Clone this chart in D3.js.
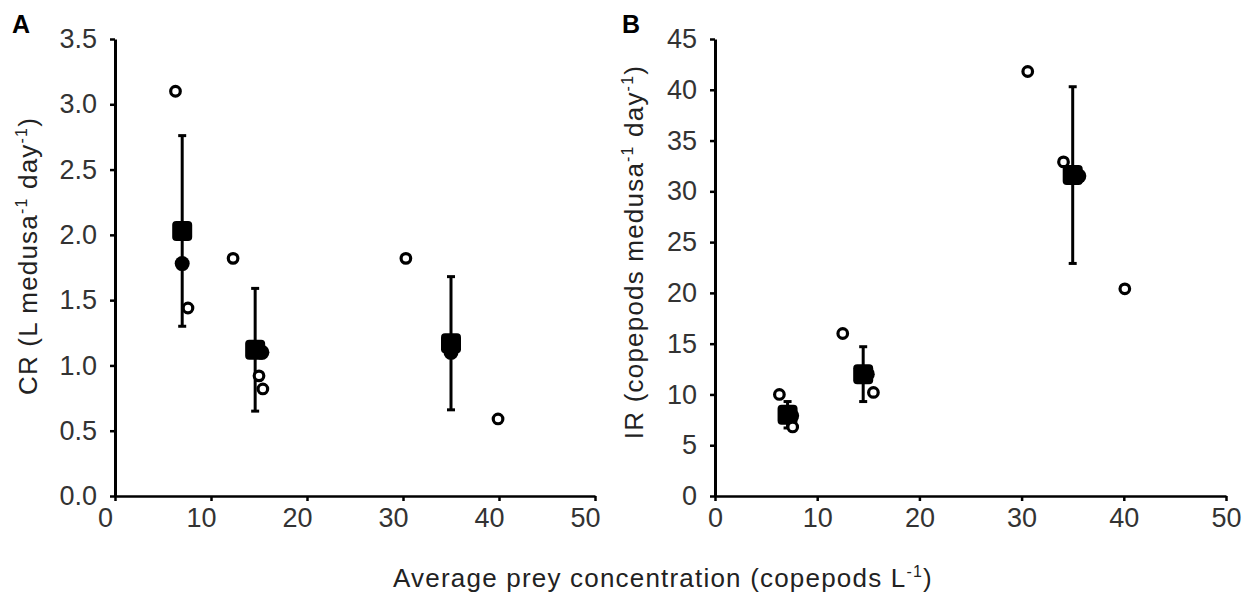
<!DOCTYPE html>
<html>
<head>
<meta charset="utf-8">
<script src="https://cdn.jsdelivr.net/npm/d3@7"></script>
<style>
  body { margin: 0; background: #fff; }
  text { font-family: "Liberation Sans", Arial, sans-serif; }
</style>
</head>
<body>
<script>
// panel A - clearance rate, individual runs (open circles)
let openAx = [6.3, 7.6, 12.3, 15.0, 15.4, 30.3, 39.9];
let openAy = [3.10, 1.44, 1.82, 0.92, 0.82, 1.82, 0.59];
// filled circles
let fillAx = [7.0, 15.3, 35.0];
let fillAy = [1.78, 1.10, 1.10];
// means +- sd
let meanAx = [7.0, 14.6, 35.0];
let meanAy = [2.03, 1.12, 1.17];
let sdA = [0.73, 0.47, 0.51];

// panel B - ingestion rate
let openBx = [6.3, 7.6, 12.5, 15.5, 30.6, 34.1, 40.1];
let openBy = [10.0, 6.8, 16.0, 10.2, 41.8, 32.9, 20.4];
let fillBx = [7.5, 14.9, 35.6];
let fillBy = [7.9, 12.0, 31.5];
let meanBx = [7.1, 14.5, 35.0];
let meanBy = [8.0, 12.0, 31.6];
let sdB = [1.3, 2.7, 8.7];

let xTicks = [0, 10, 20, 30, 40, 50];
let yTicksA = [0, 0.5, 1.0, 1.5, 2.0, 2.5, 3.0, 3.5];
let yTicksB = [0, 5, 10, 15, 20, 25, 30, 35, 40, 45];

let canvasW = 1254;
let canvasH = 598;

let svg = d3.select("body")
  .append("svg")
    .attr("width", canvasW)
    .attr("height", canvasH)
    .style("background-color", "#fff");

function zip(xs, ys) { return xs.map((x, i) => [x, ys[i]]); }

function panel(cfg) {
  let x = d3.scaleLinear().domain([0, 50]).range(cfg.xr);
  let y = d3.scaleLinear().domain(cfg.ydom).range([496, 39]);

  // axes
  let xAxis = svg.append("g")
    .attr("transform", "translate(0,496)")
    .call(d3.axisBottom(x).tickValues(xTicks).tickSize(5).tickSizeOuter(0).tickPadding(7));
  xAxis.select(".domain").attr("stroke-width", 2.5);
  xAxis.selectAll(".tick line").attr("stroke-width", 2.5);
  xAxis.selectAll(".tick text")
    .attr("dx", cfg.xdx)
    .attr("font-size", "27px")
    .attr("fill", "#333");

  let yAxis = svg.append("g")
    .attr("transform", "translate(" + cfg.xr[0] + ",0)")
    .call(d3.axisLeft(y).tickValues(cfg.yticks).tickFormat(d3.format(cfg.yfmt)).tickSize(5).tickSizeOuter(0).tickPadding(13));
  yAxis.select(".domain").attr("stroke-width", 3);
  yAxis.selectAll(".tick line").attr("stroke-width", 2.5);
  yAxis.selectAll(".tick text")
    .attr("font-size", "27px")
    .attr("fill", "#333");
  svg.selectAll(".domain").attr("stroke", "#000");

  // error bars
  let eb = svg.append("g");
  cfg.mx.forEach((mx, i) => {
    let cx = x(mx);
    let top = y(cfg.my[i] + cfg.sd[i]);
    let bot = y(cfg.my[i] - cfg.sd[i]);
    eb.append("line").attr("x1", cx).attr("x2", cx).attr("y1", top).attr("y2", bot)
      .attr("stroke", "#000").attr("stroke-width", 3);
    [top, bot].forEach(v => {
      eb.append("line").attr("x1", cx - 4).attr("x2", cx + 4).attr("y1", v).attr("y2", v)
        .attr("stroke", "#000").attr("stroke-width", 3);
    });
  });

  // filled circles
  svg.selectAll()
    .data(zip(cfg.fx, cfg.fy))
    .enter()
      .append("circle")
        .attr("cx", d => x(d[0]))
        .attr("cy", d => y(d[1]))
        .attr("r", 7.5)
        .attr("fill", "#000");

  // means (filled squares)
  svg.selectAll()
    .data(zip(cfg.mx, cfg.my))
    .enter()
      .append("rect")
        .attr("x", d => x(d[0]) - 10)
        .attr("y", d => y(d[1]) - 10)
        .attr("width", 20)
        .attr("height", 20)
        .attr("rx", 4)
        .attr("fill", "#000");

  // open circles on top
  svg.selectAll()
    .data(zip(cfg.ox, cfg.oy))
    .enter()
      .append("circle")
        .attr("cx", d => x(d[0]))
        .attr("cy", d => y(d[1]))
        .attr("r", 4.8)
        .attr("fill", "#fff")
        .attr("stroke", "#000")
        .attr("stroke-width", 3.2);

  // panel letter
  svg.append("text")
    .attr("x", cfg.letterX)
    .attr("y", 33)
    .attr("font-size", "25px")
    .attr("font-weight", "bold")
    .attr("fill", "#000")
    .text(cfg.letter);

  // y title (rotated, with superscripts)
  let yt = svg.append("text")
    .attr("text-anchor", "middle")
    .attr("font-size", "26px")
    .attr("letter-spacing", "1.2px")
    .attr("fill", "#222")
    .attr("transform", "translate(" + cfg.titleX + "," + cfg.titleY + ") rotate(-90)");
  yt.append("tspan").text(cfg.title + " medusa");
  yt.append("tspan").attr("font-size", "16px").attr("dy", -10).text("-1");
  yt.append("tspan").attr("dy", 10).text(" day");
  yt.append("tspan").attr("font-size", "16px").attr("dy", -10).text("-1");
  yt.append("tspan").attr("dy", 10).text(")");
}

panel({
  xr: [115, 595], ydom: [0, 3.5], yticks: yTicksA, yfmt: ".1f", xdx: -10,
  ox: openAx, oy: openAy, fx: fillAx, fy: fillAy, mx: meanAx, my: meanAy, sd: sdA,
  letter: "A", letterX: 12, title: "CR (L", titleX: 37, titleY: 256
});

panel({
  xr: [715, 1226], ydom: [0, 45], yticks: yTicksB, yfmt: "d", xdx: 0,
  ox: openBx, oy: openBy, fx: fillBx, fy: fillBy, mx: meanBx, my: meanBy, sd: sdB,
  letter: "B", letterX: 622, title: "IR (copepods", titleX: 643, titleY: 252
});

// shared x title
let xt = svg.append("text")
  .attr("x", 663)
  .attr("y", 587)
  .attr("text-anchor", "middle")
  .attr("font-size", "26px")
  .attr("letter-spacing", "1.2px")
  .attr("fill", "#222");
xt.append("tspan").text("Average prey concentration (copepods L");
xt.append("tspan").attr("font-size", "16px").attr("dy", -10).text("-1");
xt.append("tspan").attr("dy", 10).text(")");
</script>
</body>
</html>
